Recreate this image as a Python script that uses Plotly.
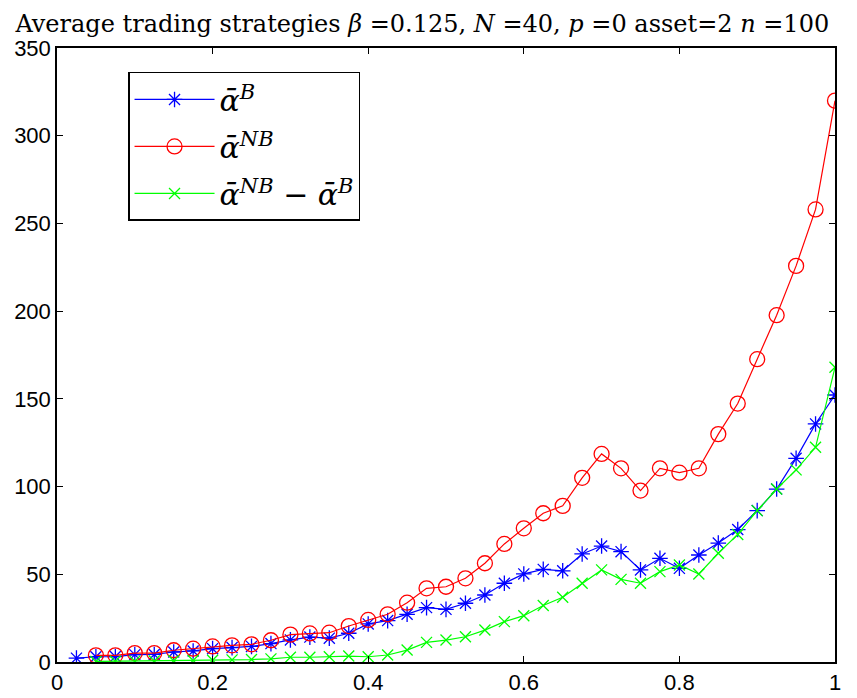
import plotly.graph_objects as go

x_blue = [0.025, 0.05, 0.075, 0.1, 0.125, 0.15, 0.175, 0.2, 0.225, 0.25, 0.275, 0.3, 0.325, 0.35,
          0.375, 0.4, 0.425, 0.45, 0.475, 0.5, 0.525, 0.55, 0.575, 0.6, 0.625, 0.65, 0.675, 0.7,
          0.725, 0.75, 0.775, 0.8, 0.825, 0.85, 0.875, 0.9, 0.925, 0.95, 0.975, 1.0]
alpha_B = [2.2, 3.0, 3.1, 4.2, 4.3, 5.7, 6.3, 7.6, 8.2, 8.9, 10.5, 12.6, 14.2, 13.6,
           16.4, 21.7, 23.6, 27.2, 31.0, 30.0, 33.5, 38.2, 44.9, 50.2, 52.8, 52.0, 61.6, 66.1,
           62.9, 52.5, 59.1, 53.4, 61.0, 67.8, 75.5, 86.3, 98.6, 116.1, 135.7, 152.2]

x_red = x_blue[1:]
alpha_NB = [3.8, 3.8, 5.1, 5.1, 6.7, 7.6, 8.9, 9.5, 10.1, 12.4, 15.6, 16.3, 16.7,
            20.5, 24.0, 27.2, 33.8, 42.0, 42.9, 47.7, 56.3, 67.3, 76.2, 84.8, 89.0, 105.0, 118.6,
            110.4, 97.7, 110.4, 107.9, 110.4, 129.9, 147.3, 172.6, 197.7, 225.8, 258.0, 320.0]
alpha_diff = [0.3, 0.4, 0.5, 0.6, 0.7, 0.9, 1.0, 1.2, 1.4, 1.8, 2.7, 2.7, 3.0,
              3.4, 3.0, 4.0, 6.8, 11.2, 12.5, 14.4, 18.2, 23.0, 26.4, 32.2, 36.9, 44.9, 52.5,
              47.1, 44.9, 51.5, 55.3, 50.2, 62.0, 72.7, 86.3, 98.6, 109.5, 122.4, 168.0]

x_ticks = [0, 0.2, 0.4, 0.6, 0.8, 1]
x_tick_labels = ["0", "0.2", "0.4", "0.6", "0.8", "1"]
y_ticks = [0, 50, 100, 150, 200, 250, 300, 350]

fig = go.Figure()
fig.add_trace(go.Scatter(
    x=x_blue, y=alpha_B, mode="lines+markers", legendgroup="g1",
    name="<i>ᾱ</i><sup><i>B</i></sup>",
    line=dict(color="#0000ff", width=1.2),
    marker=dict(symbol="asterisk-open", size=13, line=dict(color="#0000ff", width=1.3)),
))
fig.add_trace(go.Scatter(
    x=x_red, y=alpha_NB, mode="lines+markers", legendgroup="g2",
    name="<i>ᾱ</i><sup><i>NB</i></sup>",
    line=dict(color="#ff0000", width=1.2),
    marker=dict(symbol="circle-open", size=15, line=dict(color="#ff0000", width=1.3)),
))
fig.add_trace(go.Scatter(
    x=x_red, y=alpha_diff, mode="lines+markers", legendgroup="g3",
    name="<i>ᾱ</i><sup><i>NB</i></sup> − <i>ᾱ</i><sup><i>B</i></sup>",
    line=dict(color="#00ff00", width=1.2),
    marker=dict(symbol="x-thin-open", size=11, line=dict(color="#00ff00", width=1.3)),
))

axis_common = dict(
    showgrid=False, zeroline=False, showline=True, mirror="ticks", automargin=False,
    linecolor="black", linewidth=1.5, ticks="inside", ticklen=6, tickwidth=1,
    tickcolor="black", tickfont=dict(family="Liberation Sans, Arial", size=22, color="black"),
)

fig.update_layout(
    template="none",
    width=849, height=690,
    margin=dict(l=49, r=22, t=40, b=36),
    paper_bgcolor="white", plot_bgcolor="white",
    title=dict(
        text="Average trading strategies <i>β</i> =0.125, <i>N</i> =40, <i>p</i> =0 asset=2 <i>n</i> =100",
        x=0.488, xanchor="center", xref="container", y=0.99, yanchor="top", yref="container",
        pad=dict(t=0, b=0, l=0, r=0),
        font=dict(family="DejaVu Serif, serif", size=24, color="black"),
    ),
    xaxis=dict(range=[0, 1], tickvals=x_ticks, ticktext=x_tick_labels, **axis_common),
    yaxis=dict(range=[0, 350], tickvals=y_ticks, **axis_common),
    legend=dict(
        x=0.0913, y=0.961, xanchor="left", yanchor="top",
        bgcolor="white", bordercolor="black", borderwidth=1.5,
        font=dict(family="DejaVu Serif, serif", size=30, color="black"),
        itemwidth=80, tracegroupgap=5,
    ),
    showlegend=True,
)

fig.write_html("out.html")
